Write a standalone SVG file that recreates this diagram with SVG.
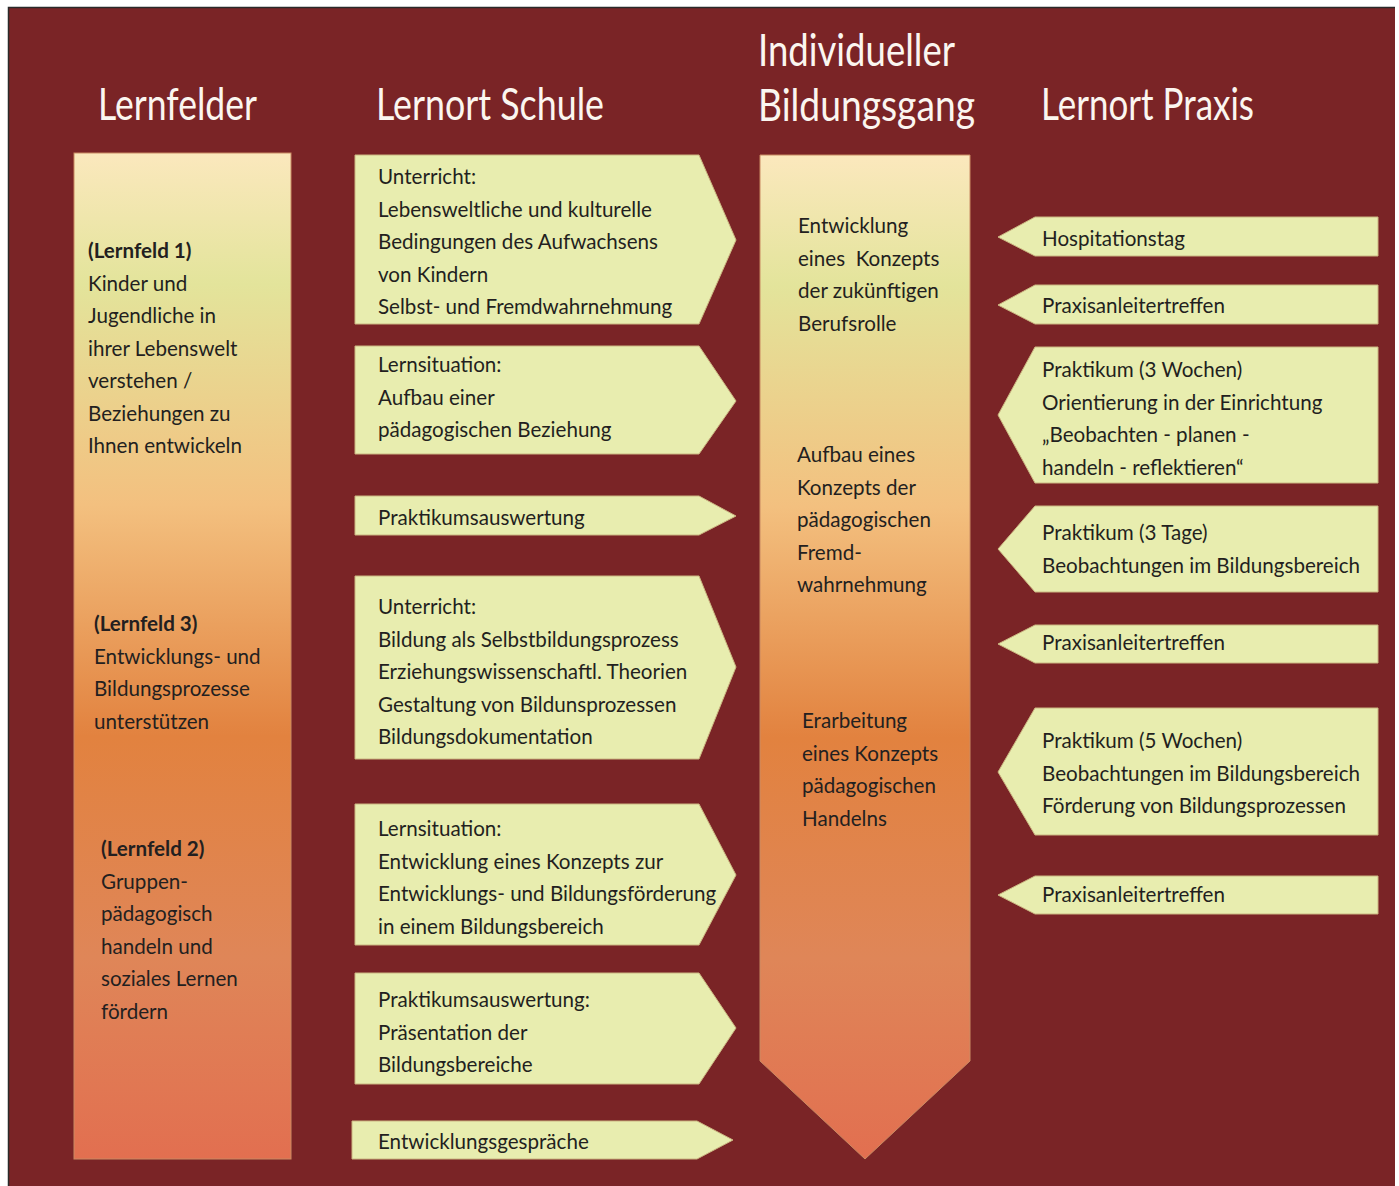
<svg xmlns="http://www.w3.org/2000/svg" width="1399" height="1186" viewBox="0 0 1399 1186">
<defs>
<linearGradient id="colGrad" x1="0" y1="0" x2="0" y2="1">
<stop offset="0" stop-color="#fbe8bd"/>
<stop offset="0.13" stop-color="#e3e49b"/>
<stop offset="0.35" stop-color="#f3c07f"/>
<stop offset="0.58" stop-color="#e2823f"/>
<stop offset="0.8" stop-color="#df8658"/>
<stop offset="1" stop-color="#e26f50"/>
</linearGradient>
<style>
.title{font-family:Lato,"Open Sans","Liberation Sans",sans-serif;font-weight:400;fill:#fbf6f0;font-size:44px}
.t{font-family:Lato,"Open Sans","Liberation Sans",sans-serif;font-size:20.6px;fill:#231f20}
.b{font-weight:700}
.box{fill:#e8edaf;stroke:#cbb681;stroke-width:1}
.col{fill:url(#colGrad);stroke:#c98a62;stroke-width:1}
</style>
</defs>
<rect x="0" y="0" width="1399" height="1186" fill="#ffffff"/>
<rect x="8" y="7" width="1387" height="1179" fill="#7a2426"/>
<path d="M8.5,1186 V7.5 H1395" fill="none" stroke="#2a2a2a" stroke-width="1.5"/>

<g id="titles">
<text class="title" x="98" y="120" textLength="159" lengthAdjust="spacingAndGlyphs">Lernfelder</text>
<text class="title" x="376" y="120" textLength="228" lengthAdjust="spacingAndGlyphs">Lernort Schule</text>
<text class="title" x="758" y="66" textLength="197" lengthAdjust="spacingAndGlyphs">Individueller</text>
<text class="title" x="758" y="121" textLength="217" lengthAdjust="spacingAndGlyphs">Bildungsgang</text>
<text class="title" x="1041" y="120" textLength="213" lengthAdjust="spacingAndGlyphs">Lernort Praxis</text>
</g>

<g id="lernfelder">
<rect class="col" x="74" y="153" width="217" height="1006"/>
<text class="t" x="88" y="258"><tspan class="b">(Lernfeld 1)</tspan><tspan x="88" dy="32.5">Kinder und</tspan><tspan x="88" dy="32.5">Jugendliche in</tspan><tspan x="88" dy="32.5">ihrer Lebenswelt</tspan><tspan x="88" dy="32.5">verstehen /</tspan><tspan x="88" dy="32.5">Beziehungen zu</tspan><tspan x="88" dy="32.5">Ihnen entwickeln</tspan></text>
<text class="t" x="94" y="631"><tspan class="b">(Lernfeld 3)</tspan><tspan x="94" dy="32.5">Entwicklungs- und</tspan><tspan x="94" dy="32.5">Bildungsprozesse</tspan><tspan x="94" dy="32.5">unterstützen</tspan></text>
<text class="t" x="101" y="856"><tspan class="b">(Lernfeld 2)</tspan><tspan x="101" dy="32.5">Gruppen-</tspan><tspan x="101" dy="32.5">pädagogisch</tspan><tspan x="101" dy="32.5">handeln und</tspan><tspan x="101" dy="32.5">soziales Lernen</tspan><tspan x="101" dy="32.5">fördern</tspan></text>
</g>

<g id="schule1">
<polygon class="box" points="355,155 699,155 736,240 699,324 355,324"/>
<text class="t" x="378" y="184"><tspan>Unterricht:</tspan><tspan x="378" dy="32.5">Lebensweltliche und kulturelle</tspan><tspan x="378" dy="32.5">Bedingungen des Aufwachsens</tspan><tspan x="378" dy="32.5">von Kindern</tspan><tspan x="378" dy="32.5">Selbst- und Fremdwahrnehmung</tspan></text>
</g>
<g id="schule2">
<polygon class="box" points="355,346 699,346 736,401 699,454 355,454"/>
<text class="t" x="378" y="372"><tspan>Lernsituation:</tspan><tspan x="378" dy="32.5">Aufbau einer</tspan><tspan x="378" dy="32.5">pädagogischen Beziehung</tspan></text>
</g>
<g id="schule3">
<polygon class="box" points="355,496 699,496 736,516 699,535 355,535"/>
<text class="t" x="378" y="525">Praktikumsauswertung</text>
</g>
<g id="schule4">
<polygon class="box" points="355,576 699,576 736,667 699,759 355,759"/>
<text class="t" x="378" y="614"><tspan>Unterricht:</tspan><tspan x="378" dy="32.5">Bildung als Selbstbildungsprozess</tspan><tspan x="378" dy="32.5">Erziehungswissenschaftl. Theorien</tspan><tspan x="378" dy="32.5">Gestaltung von Bildunsprozessen</tspan><tspan x="378" dy="32.5">Bildungsdokumentation</tspan></text>
</g>
<g id="schule5">
<polygon class="box" points="355,804 699,804 736,875 699,945 355,945"/>
<text class="t" x="378" y="836"><tspan>Lernsituation:</tspan><tspan x="378" dy="32.5">Entwicklung eines Konzepts zur</tspan><tspan x="378" dy="32.5">Entwicklungs- und Bildungsförderung</tspan><tspan x="378" dy="32.5">in einem Bildungsbereich</tspan></text>
</g>
<g id="schule6">
<polygon class="box" points="355,973 699,973 736,1028 699,1084 355,1084"/>
<text class="t" x="378" y="1007"><tspan>Praktikumsauswertung:</tspan><tspan x="378" dy="32.5">Präsentation der</tspan><tspan x="378" dy="32.5">Bildungsbereiche</tspan></text>
</g>
<g id="schule7">
<polygon class="box" points="352,1121 697,1121 733,1140 697,1159 352,1159"/>
<text class="t" x="378" y="1149">Entwicklungsgespräche</text>
</g>

<g id="bildungsgang">
<polygon class="col" points="760,155 970,155 970,1061 865,1159 760,1061"/>
<text class="t" x="798" y="233" style="white-space:pre"><tspan>Entwicklung</tspan><tspan x="798" dy="32.5">eines  Konzepts</tspan><tspan x="798" dy="32.5">der zukünftigen</tspan><tspan x="798" dy="32.5">Berufsrolle</tspan></text>
<text class="t" x="797" y="462"><tspan>Aufbau eines</tspan><tspan x="797" dy="32.5">Konzepts der</tspan><tspan x="797" dy="32.5">pädagogischen</tspan><tspan x="797" dy="32.5">Fremd-</tspan><tspan x="797" dy="32.5">wahrnehmung</tspan></text>
<text class="t" x="802" y="728"><tspan>Erarbeitung</tspan><tspan x="802" dy="32.5">eines Konzepts</tspan><tspan x="802" dy="32.5">pädagogischen</tspan><tspan x="802" dy="32.5">Handelns</tspan></text>
</g>

<g id="praxis1">
<polygon class="box" points="1378,217 1035,217 998,237 1035,256 1378,256"/>
<text class="t" x="1042" y="246">Hospitationstag</text>
</g>
<g id="praxis2">
<polygon class="box" points="1378,285 1035,285 998,305 1035,324 1378,324"/>
<text class="t" x="1042" y="313">Praxisanleitertreffen</text>
</g>
<g id="praxis3">
<polygon class="box" points="1378,347 1035,347 998,415 1035,483 1378,483"/>
<text class="t" x="1042" y="377"><tspan>Praktikum (3 Wochen)</tspan><tspan x="1042" dy="32.5">Orientierung in der Einrichtung</tspan><tspan x="1042" dy="32.5">„Beobachten - planen -</tspan><tspan x="1042" dy="32.5">handeln - reflektieren“</tspan></text>
</g>
<g id="praxis4">
<polygon class="box" points="1378,506 1035,506 998,549 1035,592 1378,592"/>
<text class="t" x="1042" y="540"><tspan>Praktikum (3 Tage)</tspan><tspan x="1042" dy="32.5">Beobachtungen im Bildungsbereich</tspan></text>
</g>
<g id="praxis5">
<polygon class="box" points="1378,625 1035,625 998,644 1035,663 1378,663"/>
<text class="t" x="1042" y="650">Praxisanleitertreffen</text>
</g>
<g id="praxis6">
<polygon class="box" points="1378,708 1035,708 998,772 1035,835 1378,835"/>
<text class="t" x="1042" y="748"><tspan>Praktikum (5 Wochen)</tspan><tspan x="1042" dy="32.5">Beobachtungen im Bildungsbereich</tspan><tspan x="1042" dy="32.5">Förderung von Bildungsprozessen</tspan></text>
</g>
<g id="praxis7">
<polygon class="box" points="1378,876 1035,876 998,895 1035,914 1378,914"/>
<text class="t" x="1042" y="902">Praxisanleitertreffen</text>
</g>

<g id="connectors"/>
</svg>
